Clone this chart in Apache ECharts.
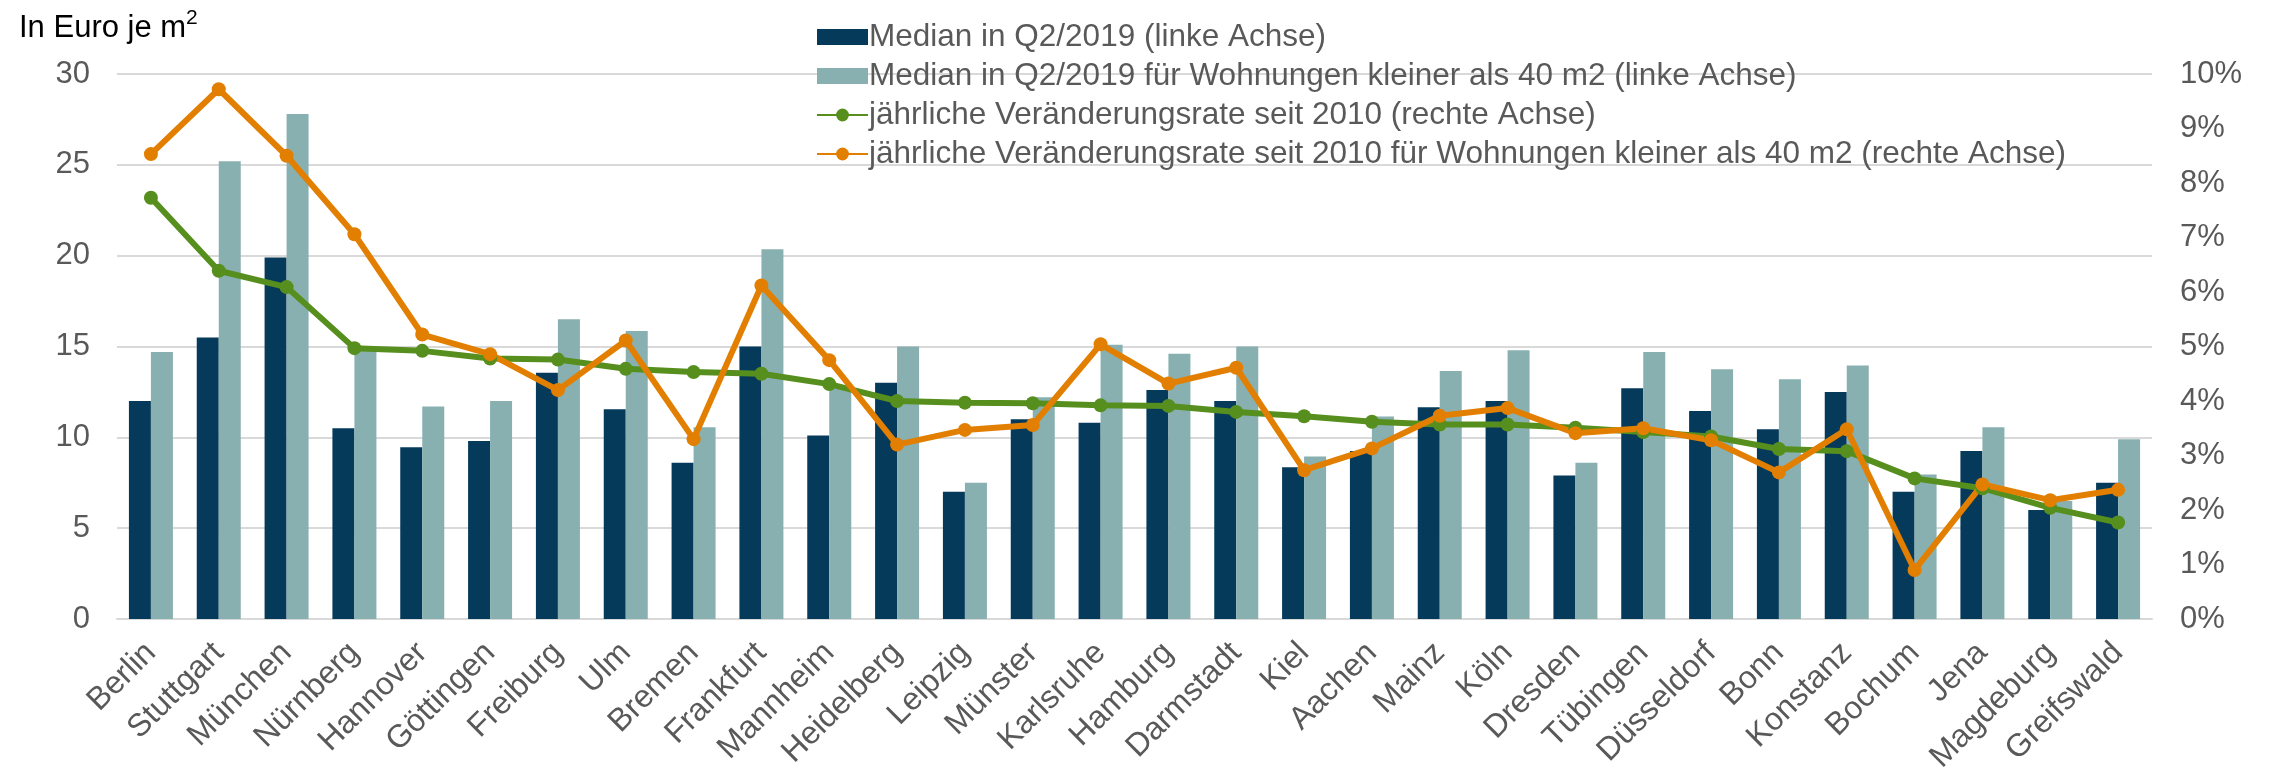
<!DOCTYPE html>
<html>
<head>
<meta charset="utf-8">
<script src="https://cdn.jsdelivr.net/npm/echarts@6/dist/echarts.min.js"></script>
<style>
html,body{margin:0;padding:0;background:#fff;}
#chart{width:2270px;height:770px;}
</style>
</head>
<body>
<div id="chart"></div>
<script>
const cities = ['Berlin','Stuttgart','München','Nürnberg','Hannover','Göttingen','Freiburg','Ulm','Bremen','Frankfurt','Mannheim','Heidelberg','Leipzig','Münster','Karlsruhe','Hamburg','Darmstadt','Kiel','Aachen','Mainz','Köln','Dresden','Tübingen','Düsseldorf','Bonn','Konstanz','Bochum','Jena','Magdeburg','Greifswald'];
const median = [12.0,15.5,19.9,10.5,9.45,9.8,13.55,11.55,8.6,15.0,10.1,13.0,7.0,11.0,10.8,12.6,12.0,8.35,9.25,11.65,12.0,7.9,12.7,11.45,10.45,12.5,7.0,9.25,6.0,7.5];
const medianSmall = [14.7,25.2,27.8,14.9,11.7,12.0,16.5,15.85,10.55,20.35,12.7,15.0,7.5,12.2,15.1,14.6,15.0,8.95,11.15,13.65,14.8,8.6,14.7,13.75,13.2,13.95,7.95,10.55,6.5,9.9];
const growth = [7.73,6.39,6.09,4.97,4.92,4.78,4.76,4.59,4.53,4.50,4.31,4.0,3.97,3.96,3.92,3.91,3.80,3.72,3.62,3.57,3.57,3.51,3.43,3.35,3.12,3.08,2.58,2.40,2.04,1.77];
const growthSmall = [8.53,9.72,8.50,7.06,5.22,4.86,4.20,5.11,3.30,6.12,4.75,3.20,3.47,3.56,5.04,4.32,4.61,2.73,3.13,3.73,3.87,3.41,3.50,3.28,2.69,3.48,0.90,2.47,2.18,2.37];
const leftTicks = {min:0, max:30, interval:5};
const rightTicks = {min:0, max:10, interval:1};
const names = [
  'Median in Q2/2019 (linke Achse)',
  'Median in Q2/2019 für Wohnungen kleiner als 40 m2 (linke Achse)',
  'jährliche Veränderungsrate seit 2010 (rechte Achse)',
  'jährliche Veränderungsrate seit 2010 für Wohnungen kleiner als 40 m2 (rechte Achse)'
];

const FONT = 'Liberation Sans, Arial, sans-serif';
const GREY = '#595959';
const chart = echarts.init(document.getElementById('chart'));
chart.setOption({
  animation:false,
  textStyle:{fontFamily:FONT},
  grid:{left:117,right:118,top:74,bottom:151,containLabel:false,outerBoundsMode:'none'},
  graphic:[{
    type:'text', left:19, top:8,
    style:{
      text:'{a|In Euro je m}{s|2}',
      rich:{
        a:{fontSize:31,fill:'#000',fontFamily:FONT,verticalAlign:'bottom',lineHeight:36},
        s:{fontSize:21,fill:'#000',fontFamily:FONT,verticalAlign:'top',lineHeight:36,padding:[0,0,16,0]}
      }
    }
  }],
  legend:{
    orient:'vertical', left:811, top:16,
    itemWidth:51, itemHeight:16, itemGap:7,
    textStyle:{fontSize:31.5,color:GREY,fontFamily:FONT,lineHeight:30,padding:[0,0,0,-4]},
    data:[
      {name:names[0],icon:'rect'},
      {name:names[1],icon:'rect'},
      {name:names[2]},
      {name:names[3]}
    ]
  },
  xAxis:{
    type:'category', data:cities,
    axisTick:{show:false},
    axisLine:{lineStyle:{color:'#D9D9D9',width:2}},
    axisLabel:{rotate:45,interval:0,fontSize:32,color:GREY,margin:29,fontFamily:FONT}
  },
  yAxis:[{
    type:'value', min:leftTicks.min, max:leftTicks.max, interval:leftTicks.interval,
    axisLabel:{fontSize:31,color:GREY,margin:27,fontFamily:FONT},
    axisLine:{show:false}, axisTick:{show:false},
    splitLine:{lineStyle:{color:'#D9D9D9',width:2}}
  },{
    type:'value', min:rightTicks.min, max:rightTicks.max, interval:rightTicks.interval,
    axisLabel:{fontSize:31,color:GREY,margin:28,formatter:'{value}%',fontFamily:FONT},
    axisLine:{show:false}, axisTick:{show:false},
    splitLine:{show:false}
  }],
  series:[
    {name:names[0],type:'bar',data:median,barWidth:22,barGap:'0%',itemStyle:{color:'#063A5B'},yAxisIndex:0},
    {name:names[1],type:'bar',data:medianSmall,barWidth:22,barGap:'0%',itemStyle:{color:'#88B0B1'},yAxisIndex:0},
    {name:names[2],type:'line',data:growth,yAxisIndex:1,symbol:'circle',symbolSize:14,
      lineStyle:{color:'#578F1E',width:6},itemStyle:{color:'#578F1E'}},
    {name:names[3],type:'line',data:growthSmall,yAxisIndex:1,symbol:'circle',symbolSize:14,
      lineStyle:{color:'#E27F00',width:6},itemStyle:{color:'#E27F00'}}
  ]
});
</script>
</body>
</html>
